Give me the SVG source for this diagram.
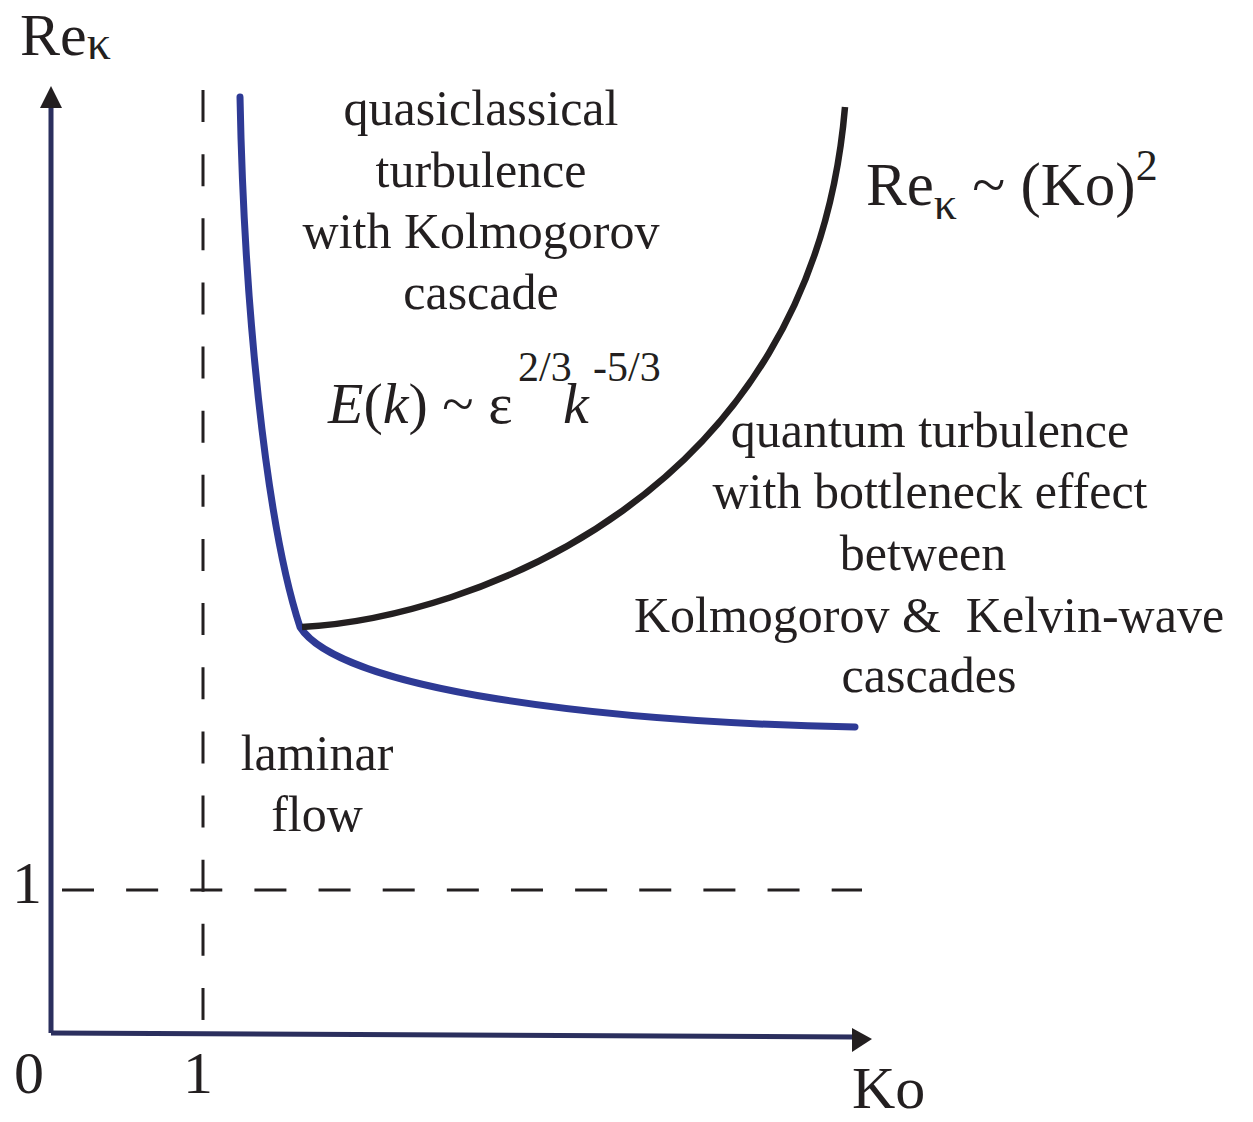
<svg xmlns="http://www.w3.org/2000/svg" width="1253" height="1122" viewBox="0 0 1253 1122">
<style>
text { font-family: "Liberation Serif", "Times New Roman", serif; fill: #231f20; }
.lbl { font-size: 50px; text-anchor: middle; }
.ax { font-size: 60px; }
.it { font-style: italic; }
.dash { stroke: #231f20; stroke-width: 3; fill: none; stroke-dasharray: 32 32.14; }
.axis { stroke: #2b2f5e; stroke-width: 5; fill: none; }
.arrow { fill: #231f20; }
</style>
<rect width="1253" height="1122" fill="#ffffff"/>
<g id="axes">
  <line class="axis" x1="51" y1="1033" x2="51" y2="104"/>
  <polygon class="arrow" points="51,86 40,108 62,108"/>
  <line class="axis" x1="51" y1="1033" x2="855" y2="1037"/>
  <polygon class="arrow" points="872,1039 852,1028 852,1052"/>
  <line class="dash" x1="203" y1="90" x2="203" y2="1020"/>
  <line class="dash" x1="62" y1="890" x2="862" y2="890"/>
</g>
<g id="connectors">
  <path id="blue-curve" d="M240,97 C244,300 265,520 300,627 C340,690 600,722 855,727" fill="none" stroke="#2e3a95" stroke-width="7" stroke-linecap="round" stroke-linejoin="round"/>
  <path id="black-curve" d="M302,627 C465,618 812,500 845,107" fill="none" stroke="#231f20" stroke-width="6.5"/>
</g>
<g id="axis-labels">
  <text class="ax" x="20" y="55">Re<tspan font-size="48" dy="4">κ</tspan></text>
  <text class="ax" x="14" y="1093">0</text>
  <text class="ax" x="198" y="1093" text-anchor="middle">1</text>
  <text class="ax" x="27" y="903" text-anchor="middle">1</text>
  <text class="ax" x="852" y="1108" font-size="58">Ko</text>
</g>
<g id="quasiclassical">
  <text class="lbl" x="481" y="125">quasiclassical</text>
  <text class="lbl" x="481" y="187">turbulence</text>
  <text class="lbl" x="481" y="248">with Kolmogorov</text>
  <text class="lbl" x="481" y="309">cascade</text>
</g>
<g id="formula">
  <text x="328" y="423" font-size="58"><tspan class="it">E</tspan>(<tspan class="it">k</tspan>) ~ ε</text>
  <text x="518" y="381" font-size="42">2/3</text>
  <text x="563" y="423" font-size="58" class="it">k</text>
  <text x="593" y="381" font-size="42">-5/3</text>
</g>
<g id="scaling-law">
  <text x="866" y="205" font-size="61">Re<tspan font-size="46" dy="14">κ</tspan><tspan dy="-14"> ~ (Ko)</tspan><tspan font-size="44" dy="-25">2</tspan></text>
</g>
<g id="quantum">
  <text class="lbl" x="930" y="447">quantum turbulence</text>
  <text class="lbl" x="930" y="508">with bottleneck effect</text>
  <text class="lbl" x="923" y="570">between</text>
  <text class="lbl" x="929" y="632" xml:space="preserve">Kolmogorov &amp;  Kelvin-wave</text>
  <text class="lbl" x="929" y="692">cascades</text>
</g>
<g id="laminar">
  <text class="lbl" x="317" y="770">laminar</text>
  <text class="lbl" x="317" y="831">flow</text>
</g>
</svg>
